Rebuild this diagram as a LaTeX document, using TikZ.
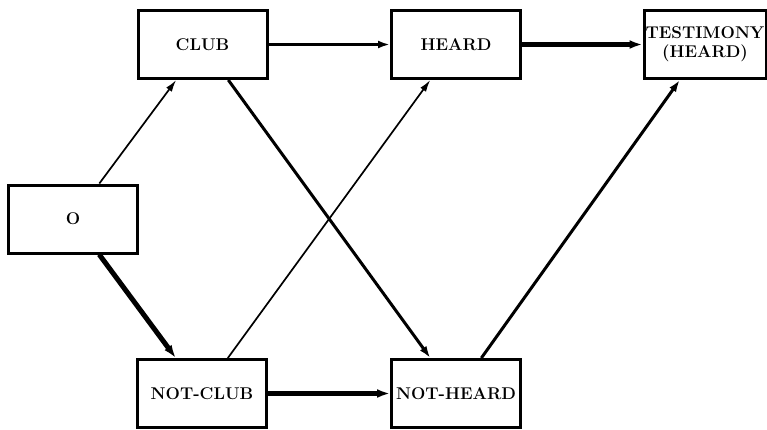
\documentclass[tikz,border=0pt]{standalone}
\usetikzlibrary{arrows.meta}
\begin{document}
\begin{tikzpicture}[x=1pt,y=-1pt,
  box/.style={draw, line width=3pt, minimum width=129pt, minimum height=68pt,
    inner sep=0pt, align=center, font=\fontsize{17}{19}\selectfont\bfseries},
  thinarrow/.style={line width=1.7pt, -{Latex[length=12pt,width=7pt]}},
  midarrow/.style={line width=3pt, -{Latex[length=12pt,width=8pt]}},
  thickarrow/.style={line width=5pt, -{Latex[length=13pt,width=9pt]}}]
  \useasboundingbox (0,0) rectangle (767,429);
  % states
  \node[box] (o)   at (73,219)    {O};
  \node[box] (club) at (202.5,44.5) {CLUB};
  \node[box] (heard) at (456,44.5) {HEARD};
  \node[box, minimum width=122pt] (test) at (705,44.5) {TESTIMONY\\(HEARD)};
  \node[box] (nclub) at (202,393.5) {NOT-CLUB};
  \node[box] (nheard) at (456,393.5) {NOT-HEARD};
  % transitions
  \draw[thinarrow]  (o) -- (club);
  \draw[thickarrow] (o) -- (nclub);
  \draw[midarrow]   (club) -- (heard);
  \draw[thickarrow] (heard) -- (test);
  \draw[midarrow]   (club) -- (nheard);
  \draw[thinarrow]  (nclub) -- (heard);
  \draw[thickarrow] (nclub) -- (nheard);
  \draw[midarrow]   (nheard) -- (test);
\end{tikzpicture}
\end{document}
